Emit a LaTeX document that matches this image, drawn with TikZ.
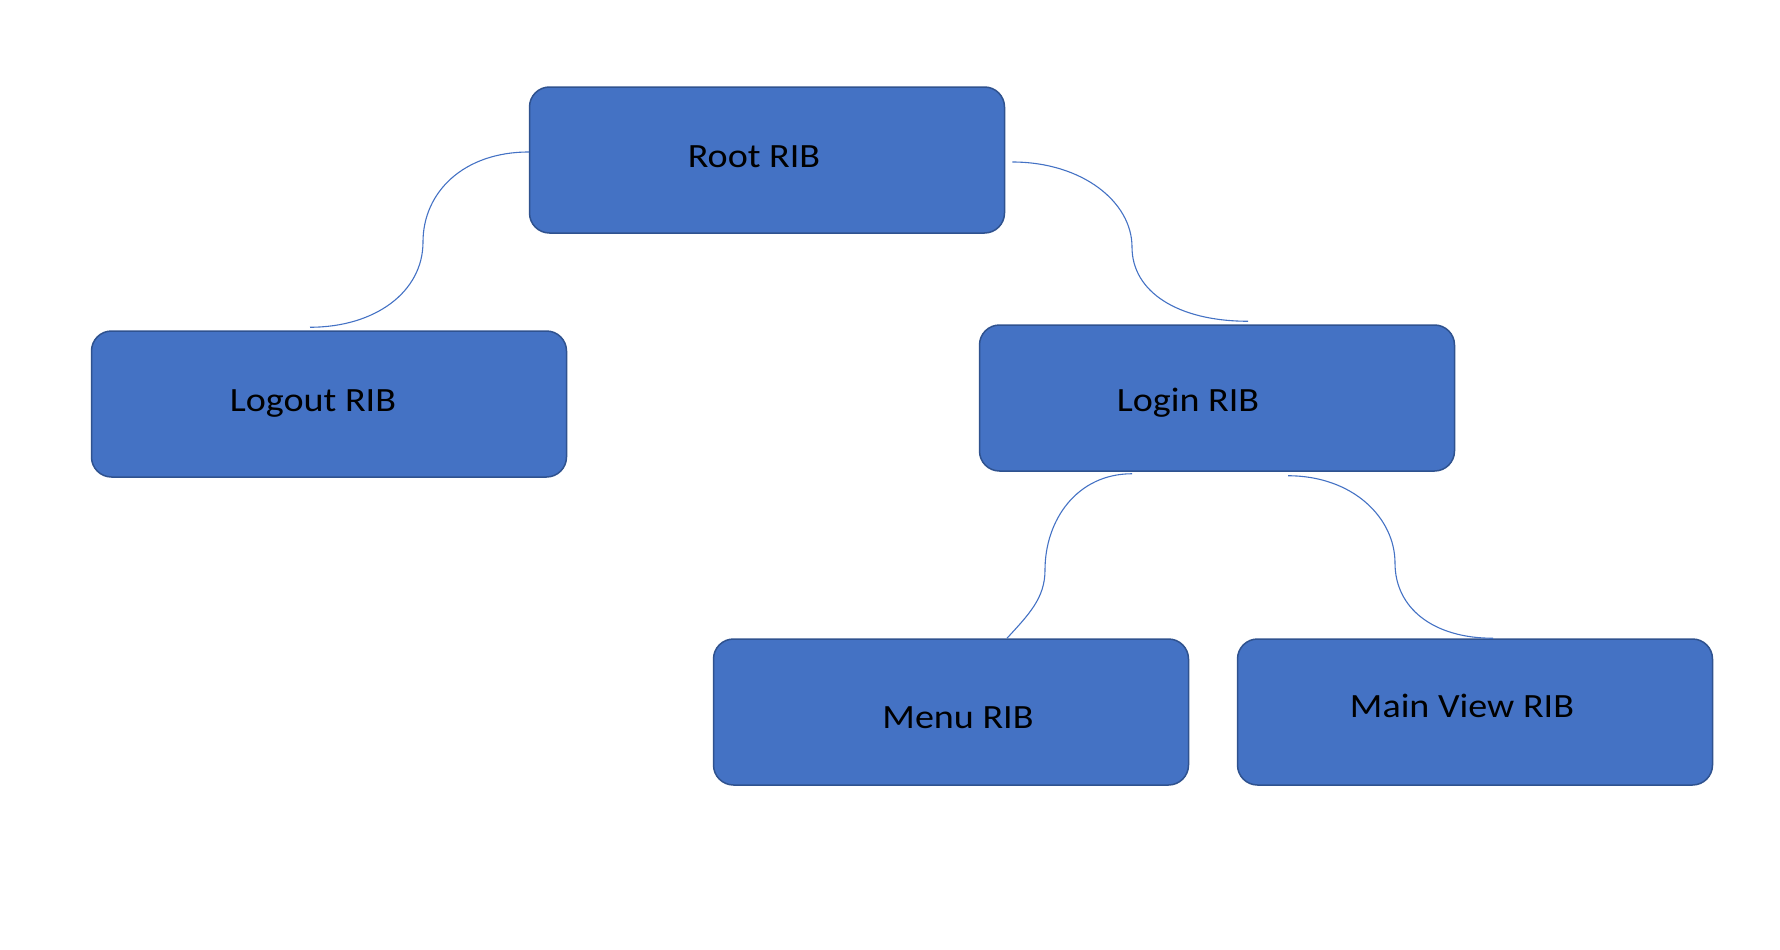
\documentclass[tikz,border=0pt]{standalone}
\usepackage{fontspec}
\setmainfont{Carlito}[FakeStretch=1.12]
\definecolor{ribfill}{HTML}{4472C4}
\definecolor{ribedge}{HTML}{2F528F}
\tikzset{
  rib/.style={draw=ribedge, line width=1.5pt, fill=ribfill, rounded corners=20pt,
    minimum width=475pt, minimum height=146pt, inner sep=0pt},
  riblabel/.style={anchor=base, inner sep=0pt, font=\fontsize{34}{40}\selectfont},
  link/.style={draw=ribfill, line width=1.1pt}
}
\begin{document}
\begin{tikzpicture}[x=1pt, y=-1pt]
\useasboundingbox (0,0) rectangle (1780,950);
% Nodes
\node[rib] (root) at (767,160) {};
\node[rib] (logout) at (329,404) {};
\node[rib] (login) at (1217,398) {};
\node[rib] (menu) at (951,712) {};
\node[rib] (mainview) at (1475,712) {};
\node[riblabel] (rootlbl) at (754,167) {Root RIB};
\node[riblabel] (logoutlbl) at (313,411) {Logout RIB};
\node[riblabel] (loginlbl) at (1188,411) {Login RIB};
\node[riblabel] (menulbl) at (958,728) {Menu RIB};
\node[riblabel] (mainviewlbl) at (1462,717) {Main View RIB};
% Lines
\coordinate (m1) at (423,242);
\coordinate (m2) at (1132,247);
\coordinate (m3) at (1045,570);
\coordinate (m4) at (1395,563);
\draw[link] ([yshift=8pt]root.west) .. controls +(-65,0) and +(0,-50) .. (m1)
  .. controls +(0,50) and +(65,0) .. ([xshift=-19pt, yshift=3pt]logout.north);
\draw[link] ([xshift=7pt, yshift=-2pt]root.east) .. controls +(70,0) and +(0,-45) .. (m2)
  .. controls +(0,45) and +(-70,0) .. ([xshift=31pt, yshift=3pt]login.north);
\draw[link] ([xshift=-85pt, yshift=-2pt]login.south) .. controls +(-55,0) and +(0,-50) .. (m3)
  .. controls +(0,28) and +(22,-24) .. ([xshift=56pt]menu.north);
\draw[link] ([xshift=71pt, yshift=-4pt]login.south) .. controls +(65,0) and +(0,-45) .. (m4)
  .. controls +(0,45) and +(-60,0) .. ([xshift=18pt]mainview.north);
\end{tikzpicture}
\end{document}
